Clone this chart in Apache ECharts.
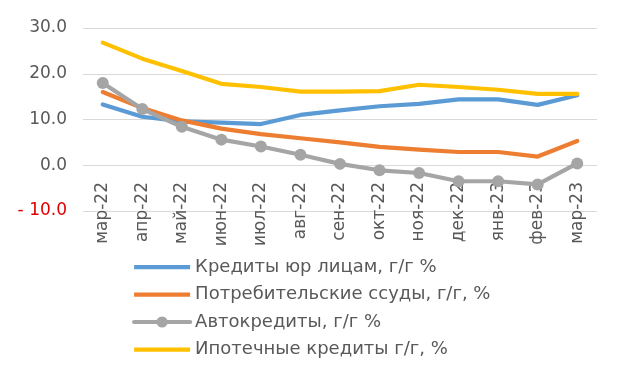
<!DOCTYPE html>
<html><head><meta charset="utf-8">
<script src="https://cdn.jsdelivr.net/npm/echarts@6/dist/echarts.min.js"></script>
<style>html,body{margin:0;padding:0;background:#fff}#c{width:620px;height:381px}</style>
</head><body><div id="c"></div>
<script>
const categories = ['мар-22','апр-22','май-22','июн-22','июл-22','авг-22','сен-22','окт-22','ноя-22','дек-22','янв-23','фев-23','мар-23'];
const corpLoans = [13.3,10.6,9.6,9.3,9.0,11.0,12.0,12.9,13.4,14.4,14.4,13.2,15.3];
const consumerLoans = [16.0,12.5,9.8,8.0,6.8,5.9,5.0,4.0,3.4,2.9,2.9,1.9,5.3];
const autoLoans = [18.0,12.3,8.4,5.6,4.1,2.3,0.3,-1.1,-1.7,-3.5,-3.5,-4.2,0.4];
const mortgage = [26.8,23.3,20.6,17.8,17.1,16.1,16.1,16.2,17.6,17.1,16.5,15.6,15.6];
const seriesNames = ['Кредиты юр лицам, г/г %','Потребительские ссуды, г/г, %','Автокредиты, г/г %','Ипотечные кредиты г/г, %'];
const yTicks = {min:-10, max:30, interval:10};

const chart = echarts.init(document.getElementById('c'), null, {renderer:'canvas'});
const font = 'DejaVu Sans, Verdana, sans-serif';
const bandIcon = 'path://M0,0h0.01v0.01h-0.01Z M0,5h56v4.2H0Z M0,14h0.01v-0.01h-0.01Z';
function line(name, data, color, marker){
  return {name, type:'line', data, smooth:false,
    symbol: marker ? 'circle' : 'none', symbolSize: marker ? 12 : 0, showSymbol: !!marker,
    lineStyle:{color, width:4.2, cap:'round', join:'round'}, itemStyle:{color}, emphasis:{disabled:true}};
}
chart.setOption({
  animation:false,
  textStyle:{fontFamily:font},
  grid:{left:83, right:23, top:28, bottom:170},
  legend:{orient:'vertical', left:127, top:253, itemWidth:56, itemHeight:14, itemGap:9.5,
    textStyle:{fontSize:18, color:'#595959', fontFamily:font},
    data:[
      {name:seriesNames[0], icon:bandIcon},
      {name:seriesNames[1], icon:bandIcon},
      {name:seriesNames[2], lineStyle:{width:4.2, color:'#A5A5A5'}},
      {name:seriesNames[3], icon:bandIcon}
    ]},
  xAxis:{type:'category', data:categories, boundaryGap:true,
    axisLine:{show:false}, axisTick:{show:false},
    axisLabel:{rotate:90, margin:-29, fontSize:17, color:'#595959', fontFamily:font, interval:0}},
  yAxis:{type:'value', min:yTicks.min, max:yTicks.max, interval:yTicks.interval,
    axisLine:{show:false}, axisTick:{show:false},
    splitLine:{lineStyle:{color:'#d9d9d9', width:1}},
    axisLabel:{margin:16, fontSize:17, fontFamily:font,
      formatter:function(v){ return v < 0 ? '{neg|- ' + Math.abs(v).toFixed(1) + '}' : '{pos|' + v.toFixed(1) + '}'; },
      rich:{pos:{color:'#595959', fontSize:17, fontFamily:font}, neg:{color:'#e00000', fontSize:17, fontFamily:font}}}},
  series:[
    line(seriesNames[0], corpLoans, '#5B9BD5', false),
    line(seriesNames[1], consumerLoans, '#ED7D31', false),
    line(seriesNames[2], autoLoans, '#A5A5A5', true),
    line(seriesNames[3], mortgage, '#FFC000', false)
  ]
});
</script></body></html>
